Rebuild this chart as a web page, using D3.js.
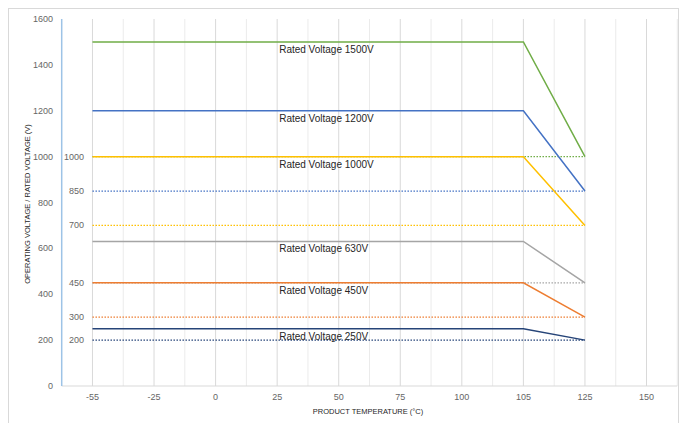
<!DOCTYPE html>
<meta charset="utf-8">
<script src="https://d3js.org/d3.v7.min.js"></script>
<style>
    body { margin: 0; background: #fff; }
    text { font-family: "Liberation Sans", Arial, sans-serif; }
</style>
<div id="chart"></div>
<script>

    // categories on the x axis (equally spaced)
    const temps = ["-55", "-25", "0", "25", "50", "75", "100", "105", "125", "150"];
    // rated voltage of each series, and the derated value reached at 125 °C
    const rated = [1500, 1200, 1000, 630, 450, 250];
    const derated = [1000, 850, 700, 450, 300, 200];
    const colors = ["#70ad47", "#4472c4", "#ffc000", "#a5a5a5", "#ed7d31", "#264478"];
    const yTicks = [0, 200, 400, 600, 800, 1000, 1200, 1400, 1600];

    const W = 680, H = 423;
    const svg = d3.select("#chart").append("svg")
        .attr("width", W).attr("height", H);

    // chart border
    svg.append("rect")
        .attr("x", 8.5).attr("y", 8.5)
        .attr("width", 670).attr("height", 430)
        .attr("fill", "none").attr("stroke", "#d9d9d9");

    const x = d3.scaleLinear().domain([-0.5, 9.5]).range([61.7, 677.3]);
    const y = d3.scaleLinear().domain([0, 1600]).range([386, 19]);
    const xi = t => x(temps.indexOf(t));

    // vertical gridlines, every half category
    const grid = d3.range(0, 20).map(i => i / 2);
    svg.append("g").selectAll("line")
        .data(grid)
        .join("line")
        .attr("x1", d => x(d)).attr("x2", d => x(d))
        .attr("y1", y(1600)).attr("y2", y(0))
        .attr("stroke", d => Number.isInteger(d) ? "#d9d9d9" : "#ebebeb")
        .attr("stroke-width", 1);

    // axis lines
    svg.append("line")
        .attr("x1", x(-0.5)).attr("x2", x(9.5))
        .attr("y1", y(0)).attr("y2", y(0))
        .attr("stroke", "#d9d9d9");
    svg.append("line")
        .attr("x1", x(-0.5)).attr("x2", x(-0.5))
        .attr("y1", y(1600)).attr("y2", y(0))
        .attr("stroke", "#9dc3e6").attr("stroke-width", 1.5);

    // y tick labels
    svg.append("g").selectAll("text")
        .data(yTicks)
        .join("text")
        .attr("x", 53).attr("y", d => y(d) + 3)
        .attr("text-anchor", "end")
        .attr("font-size", 9).attr("fill", "#666")
        .text(d => d);

    // x tick labels
    svg.append("g").selectAll("text")
        .data(temps)
        .join("text")
        .attr("x", d => xi(d)).attr("y", 400)
        .attr("text-anchor", "middle")
        .attr("font-size", 9).attr("fill", "#666")
        .text(d => d);

    const line = d3.line().x(d => xi(d[0])).y(d => y(d[1]));

    // dotted derated reference lines
    derated.forEach((v, i) => {
        svg.append("path")
            .datum([["-55", v], ["125", v]])
            .attr("d", line)
            .attr("fill", "none")
            .attr("stroke", colors[i])
            .attr("stroke-width", 1.3)
            .attr("stroke-dasharray", "1.5,1.5");
        svg.append("text")
            .attr("x", 84).attr("y", y(v) + 3)
            .attr("text-anchor", "end")
            .attr("font-size", 9).attr("fill", "#666")
            .text(v);
    });

    // solid derating curves
    rated.forEach((v, i) => {
        svg.append("path")
            .datum([["-55", v], ["105", v], ["125", derated[i]]])
            .attr("d", line)
            .attr("fill", "none")
            .attr("stroke", colors[i])
            .attr("stroke-width", 1.5);
        svg.append("text")
            .attr("x", xi("25") + 2).attr("y", y(v) + 11)
            .attr("font-size", 10).attr("fill", "#262626")
            .text("Rated Voltage " + v + "V");
    });

    // axis titles
    svg.append("text")
        .attr("transform", "translate(30,204)rotate(-90)")
        .attr("text-anchor", "middle")
        .attr("font-size", 7.5).attr("fill", "#262626")
        .text("OPERATING VOLTAGE / RATED VOLTAGE (V)");
    svg.append("text")
        .attr("x", 368).attr("y", 414)
        .attr("text-anchor", "middle")
        .attr("font-size", 7.5).attr("fill", "#262626")
        .text("PRODUCT TEMPERATURE (°C)");

</script>
